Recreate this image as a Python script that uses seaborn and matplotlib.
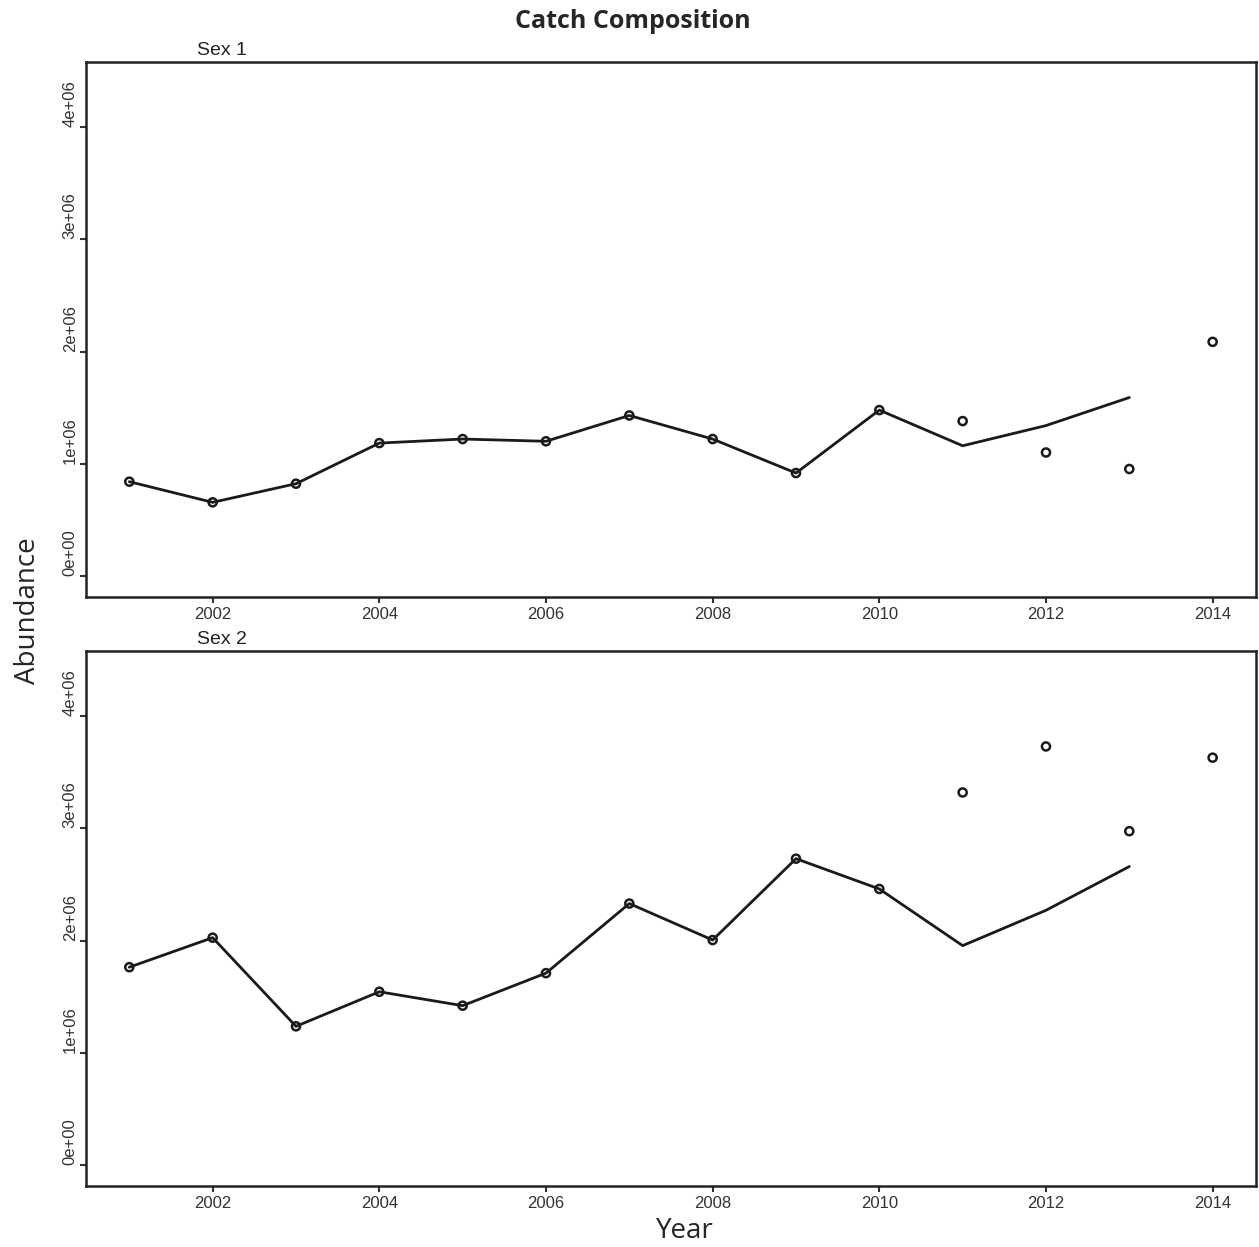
import matplotlib
matplotlib.use("Agg")
import matplotlib.pyplot as plt
import seaborn as sns
import pandas as pd

years = [2001, 2002, 2003, 2004, 2005, 2006, 2007, 2008, 2009, 2010, 2011, 2012, 2013, 2014]
fit_years = [2001, 2002, 2003, 2004, 2005, 2006, 2007, 2008, 2009, 2010, 2011, 2012, 2013]

# observed (circles) and fitted (line) abundance, by sex
obs_sex1 = [0.84e6, 0.656e6, 0.822e6, 1.184e6, 1.22e6, 1.20e6, 1.43e6, 1.22e6, 0.917e6, 1.478e6,
            1.38e6, 1.10e6, 0.953e6, 2.086e6]
fit_sex1 = [0.84e6, 0.656e6, 0.822e6, 1.184e6, 1.22e6, 1.20e6, 1.43e6, 1.22e6, 0.917e6, 1.478e6,
            1.16e6, 1.34e6, 1.59e6]
obs_sex2 = [1.763e6, 2.026e6, 1.236e6, 1.544e6, 1.42e6, 1.71e6, 2.33e6, 2.005e6, 2.73e6, 2.46e6,
            3.32e6, 3.73e6, 2.975e6, 3.63e6]
fit_sex2 = [1.763e6, 2.026e6, 1.236e6, 1.544e6, 1.42e6, 1.71e6, 2.33e6, 2.005e6, 2.73e6, 2.46e6,
            1.955e6, 2.27e6, 2.66e6]

panels = ["Sex 1", "Sex 2"]
yticks = [0, 1e6, 2e6, 3e6, 4e6]
ytick_labels = ["0e+00", "1e+06", "2e+06", "3e+06", "4e+06"]
xticks = [2002, 2004, 2006, 2008, 2010, 2012, 2014]

sns.set_style("white")
plt.rcParams['font.family'] = ['Liberation Sans', 'DejaVu Sans']

fig = plt.figure(figsize=(12.59, 12.47), dpi=100)

positions = [[0.0683, 0.5213, 0.9293, 0.429],
             [0.0683, 0.0489, 0.9293, 0.429]]
data = [(obs_sex1, fit_sex1), (obs_sex2, fit_sex2)]

for pos, name, (obs, fit) in zip(positions, panels, data):
    ax = fig.add_axes(pos)
    obs_df = pd.DataFrame({"year": years, "value": obs})
    fit_df = pd.DataFrame({"year": fit_years, "value": fit})
    sns.lineplot(data=fit_df, x="year", y="value", ax=ax, color="#1a1a1a", linewidth=2)
    sns.scatterplot(data=obs_df, x="year", y="value", ax=ax, marker="o", s=34,
                    facecolor="none", edgecolor="#1a1a1a", linewidth=1.8, zorder=3)
    ax.set_xlim(2000.48, 2014.52)
    ax.set_ylim(-0.187e6, 4.58e6)
    ax.set_xticks(xticks)
    ax.set_xticklabels([str(x) for x in xticks], fontsize=12, color="#333333")
    ax.set_yticks(yticks)
    ax.set_yticklabels(ytick_labels, fontsize=12, color="#333333", rotation=90, va="bottom")
    ax.tick_params(axis="both", direction="out", length=4, width=1.5, color="#333333",
                   left=True, bottom=True)
    ax.tick_params(axis="x", pad=3)
    ax.tick_params(axis="y", pad=2)
    for sp in ax.spines.values():
        sp.set_linewidth(1.8)
        sp.set_color("#222222")
    ax.set_xlabel("")
    ax.set_ylabel("")
    ax.text(0.095, 1.005, name, transform=ax.transAxes, fontsize=14, ha="left", va="bottom",
            color="#222222")

fig.text(0.503, 0.983, "Catch Composition", ha="center", va="center", fontsize=18,
         fontweight="bold", family=["Open Sans", "DejaVu Sans"])
fig.text(0.022, 0.51, "Abundance", ha="center", va="center", rotation=90, fontsize=20,
         family=["Open Sans", "DejaVu Sans"])
fig.text(0.544, 0.013, "Year", ha="center", va="center", fontsize=20,
         family=["Open Sans", "DejaVu Sans"])

fig.savefig("out.png", dpi=100)
plt.close(fig)
